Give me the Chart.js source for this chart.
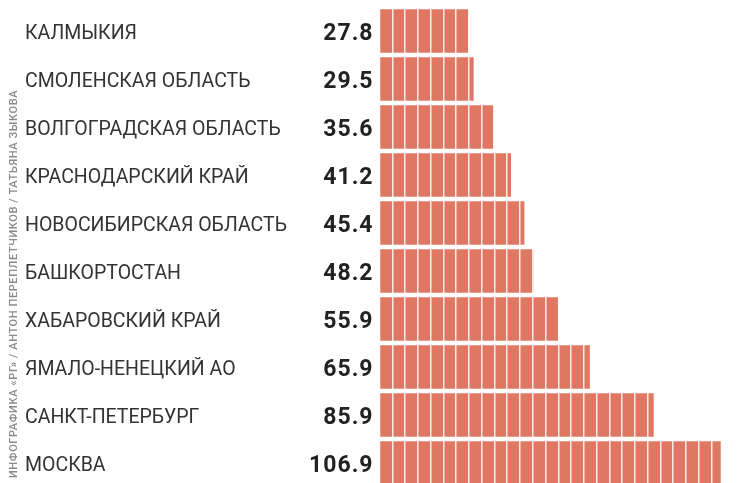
<!DOCTYPE html>
<html><head><meta charset="utf-8">
<script src="https://cdn.jsdelivr.net/npm/chart.js@4/dist/chart.umd.min.js"></script>
<style>
html,body{margin:0;padding:0;background:#fff;overflow:hidden;}
#wrap{position:relative;width:739px;height:490px;}
</style></head>
<body>
<div id="wrap"><canvas id="c"></canvas></div>
<script>
const regions = ["КАЛМЫКИЯ","СМОЛЕНСКАЯ ОБЛАСТЬ","ВОЛГОГРАДСКАЯ ОБЛАСТЬ","КРАСНОДАРСКИЙ КРАЙ","НОВОСИБИРСКАЯ ОБЛАСТЬ","БАШКОРТОСТАН","ХАБАРОВСКИЙ КРАЙ","ЯМАЛО-НЕНЕЦКИЙ АО","САНКТ-ПЕТЕРБУРГ","МОСКВА"];
const values = [27.8,29.5,35.6,41.2,45.4,48.2,55.9,65.9,85.9,106.9];
const valueLabels = ["27.8","29.5","35.6","41.2","45.4","48.2","55.9","65.9","85.9","106.9"];
const credit = "ИНФОГРАФИКА «РГ» / АНТОН ПЕРЕПЛЕТЧИКОВ / ТАТЬЯНА ЗЫКОВА";

const AREA_LEFT = 379.5, PAD_LEFT = 25;

const extras = {
  id:'extras',
  afterDraw(chart){
    const ctx = chart.ctx, y = chart.scales.y, a = chart.chartArea;
    // category names
    ctx.save();
    ctx.fillStyle = '#333';
    ctx.font = '19.5px Roboto';
    ctx.textAlign = 'left';
    ctx.textBaseline = 'middle';
    y.getLabels().forEach((t,i)=>{
      ctx.fillText(t, PAD_LEFT, y.getPixelForValue(i) + 3);
    });
    ctx.restore();
    // values
    ctx.save();
    ctx.fillStyle = '#222';
    ctx.font = 'bold 23px Roboto';
    ctx.textAlign = 'right';
    ctx.textBaseline = 'middle';
    try{ ctx.letterSpacing = '1px'; }catch(e){}
    valueLabels.forEach((t,i)=>{
      ctx.fillText(t, a.left - 6, y.getPixelForValue(i) + 3);
    });
    ctx.restore();
    // credit
    ctx.save();
    ctx.translate(14, 478);
    ctx.rotate(-Math.PI/2);
    ctx.fillStyle = '#8a8a8a';
    ctx.font = '500 11px Roboto';
    ctx.textAlign = 'left';
    ctx.textBaseline = 'middle';
    try{ ctx.letterSpacing = '0.6px'; }catch(e){}
    ctx.fillText(credit, 0, 0);
    ctx.restore();
  }
};

new Chart(document.getElementById('c'), {
  type:'bar',
  data:{ labels: regions, datasets:[{ data: values, backgroundColor:'#df7863', barPercentage:0.91, categoryPercentage:1 }]},
  options:{
    indexAxis:'y',
    responsive:true, maintainAspectRatio:false, animation:false,
    layout:{ padding:{ left:PAD_LEFT, right:2, top:7, bottom:3 } },
    plugins:{ legend:{display:false}, tooltip:{enabled:false} },
    scales:{
      x:{ min:0, max:112,
        afterFit(s){ s.height = 0; },
        ticks:{ display:false, stepSize:4 },
        grid:{ z:1, color:(c)=> c.index===0 ? 'rgba(0,0,0,0)' : 'rgba(255,255,255,0.85)', lineWidth:1.5, drawTicks:false },
        border:{ display:false } },
      y:{
        afterFit(s){ s.width = AREA_LEFT - PAD_LEFT; },
        grid:{ display:false }, border:{ display:false },
        ticks:{ display:false }
      }
    }
  },
  plugins:[extras]
});
</script>
</body></html>
